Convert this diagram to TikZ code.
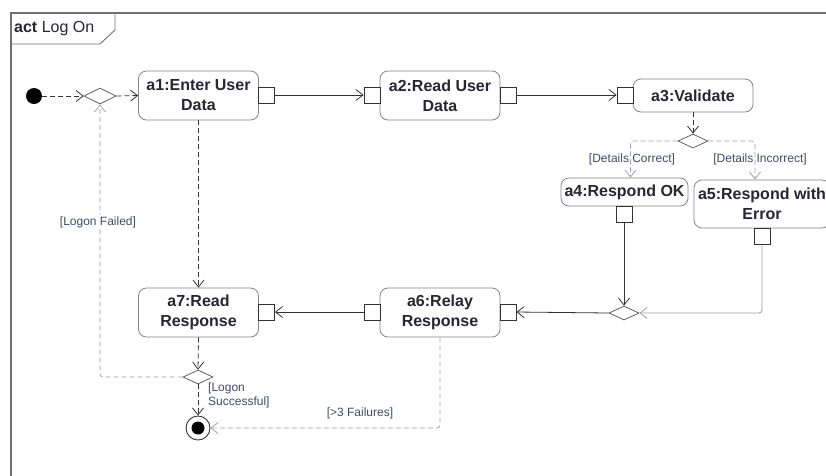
\documentclass[tikz,border=0pt]{standalone}
\usepackage{fontspec}
\setmainfont{Liberation Sans}
\usetikzlibrary{shapes.geometric,arrows.meta,calc}

\definecolor{ink}{HTML}{262634}
\definecolor{edgedark}{HTML}{333333}
\definecolor{edgegray}{HTML}{A4A4A4}
\definecolor{boxline}{HTML}{858585}
\definecolor{guard}{HTML}{424A68}
\definecolor{framegray}{HTML}{707070}

\begin{document}
\begin{tikzpicture}[x=1pt,y=-1pt,
  action/.style={draw=boxline, line width=0.8pt, rounded corners=8pt, fill=white,
    align=center, font=\fontsize{16}{20}\selectfont\bfseries, text=ink, inner sep=0pt},
  pinbox/.style={draw=edgedark, line width=0.9pt, fill=white, minimum size=16pt, inner sep=0pt},
  decision/.style={draw=edgedark!85, line width=0.7pt, fill=white, shape=diamond,
    minimum width=30pt, minimum height=14pt, inner sep=0pt},
  barb/.style={-{Straight Barb[length=7pt,width=11pt]}},
  darkdash/.style={barb, draw=edgedark, line width=0.8pt, dash pattern=on 5pt off 3pt},
  graydash/.style={barb, draw=edgegray, line width=0.8pt, dash pattern=on 5pt off 3pt, rounded corners=3pt},
  darkflow/.style={barb, draw=edgedark, line width=0.8pt},
  grayflow/.style={barb, draw=edgegray, line width=0.9pt, rounded corners=3pt},
  guardlabel/.style={font=\fontsize{12}{14}\selectfont, text=guard, inner sep=1pt}]

\useasboundingbox (0,0) rectangle (826,475);
\clip (0,0) rectangle (826,475);
\fill[white] (0,0) rectangle (826,475);

% diagram frame with its name tab
\draw[framegray, line width=1.4pt] (11,13) rectangle (900,520);
\draw[framegray, line width=0.9pt] (11,44) -- (100,44) -- (115,30) -- (115,13);
\node[anchor=west, font=\fontsize{16}{20}\selectfont, text=ink, inner sep=0pt] (title) at (14,29) {\textbf{act} Log On};

% control nodes
\node[circle, fill=black, minimum size=16pt, inner sep=0pt] (init) at (34,96) {};
\node[decision, minimum width=32pt, minimum height=16pt] (d1) at (100,96) {};
\node[decision] (d2) at (693,141) {};
\node[decision] (dm) at (624,313) {};
\node[decision] (d3) at (198,377) {};
\node[circle, draw=edgedark, line width=0.9pt, fill=white, minimum size=24pt, inner sep=0pt] (fin) at (198,428) {};
\fill[black] (fin.center) circle (6.5pt);

% actions
\node[action, minimum width=120pt, minimum height=49pt] (a1) at (198.5,95.5) {a1:Enter User\\Data};
\node[action, minimum width=120pt, minimum height=49pt] (a2) at (440,95.5) {a2:Read User\\Data};
\node[action, minimum width=120pt, minimum height=33pt] (a3) at (693,95.5) {a3:Validate};
\node[action, minimum width=127pt, minimum height=28pt] (a4) at (624.5,192) {a4:Respond OK};
\node[action, minimum width=136pt, minimum height=48pt] (a5) at (762,204) {a5:Respond with\\Error};
\node[action, minimum width=120pt, minimum height=49pt] (a6) at (440,312.5) {a6:Relay\\Response};
\node[action, minimum width=120pt, minimum height=49pt] (a7) at (198.5,312.5) {a7:Read\\Response};

% pins
\node[pinbox] (p1r) at (266.5,95) {};
\node[pinbox] (p2l) at (372,95) {};
\node[pinbox] (p2r) at (508,95) {};
\node[pinbox] (p3l) at (625,95) {};
\node[pinbox] (p4) at (624,214.5) {};
\node[pinbox] (p5) at (762,236.5) {};
\node[pinbox] (p6l) at (372,312) {};
\node[pinbox] (p6r) at (508,312) {};
\node[pinbox] (p7r) at (266.5,312) {};

% control flows
\draw[darkdash] (init) -- (d1.west);
\draw[darkdash] (d1.east) -- (a1.west);
\draw[darkdash] (a3.south) -- (d2.north);
\draw[darkdash] (a1.south) -- (a7.north);
\draw[darkdash] (a7.south) -- (d3.north);
\draw[darkdash] (d3.south) -- (fin.north);
\draw[graydash] (d2.west) -| ([xshift=6pt]a4.north);
\draw[graydash] (d2.east) -| ([xshift=-7pt]a5.north);
\draw[graydash] (d3.west) -| (d1.south);
\draw[graydash] (a6.south) |- (fin.east);

% object flows between pins
\draw[darkflow] (p1r.east) -- (p2l.west);
\draw[darkflow] (p2r.east) -- (p3l.west);
\draw[darkflow] (p4.south) -- (dm.north);
\draw[grayflow] (p5.south) |- (dm.east);
\draw[darkflow] (dm.west) -- (p6r.east);
\draw[darkflow] (p6l.west) -- (p7r.east);

% guards
\node[guardlabel] (gc) at (632,159) {[Details Correct]};
\node[guardlabel] (gi) at (760,159) {[Details Incorrect]};
\node[guardlabel, fill=white] (gf) at (98,222) {[Logon Failed]};
\node[guardlabel, anchor=north west, align=left, inner sep=0pt] (gs) at (208,383) {[Logon\\Successful]};
\node[guardlabel] (g3) at (360,413) {[>3 Failures]};
\end{tikzpicture}
\end{document}
